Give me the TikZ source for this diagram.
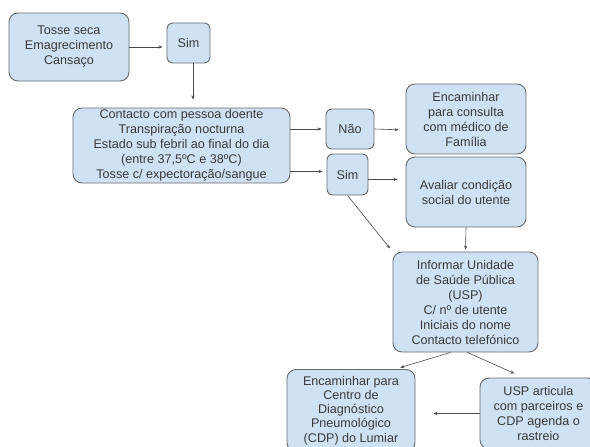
\documentclass[tikz,border=0pt]{standalone}
\usepackage{fontspec}
\setmainfont{Liberation Sans}
\usetikzlibrary{arrows.meta}
\definecolor{boxfill}{HTML}{CFE2F3}
\definecolor{boxline}{HTML}{6A6A6A}
\definecolor{txt}{HTML}{3A3A3A}
\definecolor{arr}{HTML}{4A4A4A}
\begin{document}
\begin{tikzpicture}[x=1pt,y=-1pt,
  box/.style={draw=boxline, fill=boxfill, line width=0.9pt, rounded corners=9pt,
    inner sep=0pt, align=center, text=txt,
    font=\fontsize{12.6}{15}\selectfont},
  small/.style={box, rounded corners=6pt},
  conn/.style={draw=arr, line width=0.6pt, -{Stealth[length=4pt,width=3.2pt]}}]
\useasboundingbox (0,0) rectangle (590,447);
\clip (0,0) rectangle (590,447);
\node[box, minimum width=120pt, minimum height=68pt] (b1) at (69,47)
  {Tosse seca\\Emagrecimento\\Cansaço};
\node[small, minimum width=43pt, minimum height=40pt] (s1) at (188.5,43) {Sim};
\node[box, minimum width=217pt, minimum height=75pt] (b2) at (181.5,145.5)
  {Contacto com pessoa doente\\Transpiração nocturna\\Estado sub febril ao final do dia\\(entre 37,5ºC e 38ºC)\\Tosse c/ expectoração/sangue};
\node[small, minimum width=48pt, minimum height=40pt] (nao) at (350,129) {Não};
\node[small, minimum width=41pt, minimum height=41pt] (s2) at (347.5,174.5) {Sim};
\node[box, minimum width=120pt, minimum height=70pt] (enc) at (466,119)
  {Encaminhar\\para consulta\\com médico de\\Família};
\node[box, minimum width=120pt, minimum height=70pt] (aval) at (466,192)
  {Avaliar condição\\social do utente};
\node[box, minimum width=145pt, minimum height=100pt] (inf) at (465.5,302)
  {Informar Unidade\\de Saúde Pública\\(USP)\\C/ nº de utente\\Iniciais do nome\\Contacto telefónico};
\node[box, minimum width=128pt, minimum height=82pt, font=\fontsize{12.6}{14.2}\selectfont] (cdp) at (351,410.5)
  {Encaminhar para\\Centro de\\Diagnóstico\\Pneumológico\\(CDP) do Lumiar};
\node[box, minimum width=117pt, minimum height=71pt] (usp) at (538.5,413.5)
  {USP articula\\com parceiros e\\CDP agenda o\\rastreio};
\draw[conn, shorten >=4pt] (b1.east) -- (s1.west |- b1.east);
\draw[conn, shorten >=8pt] ([xshift=4.5pt]s1.south) -- ([xshift=4.5pt]s1.south |- b2.north);
\draw[conn, shorten >=4pt] (b2.east |- nao.west) -- (nao.west);
\draw[conn, shorten >=4pt] ([yshift=3pt]b2.east |- s2.west) -- ([yshift=3pt]s2.west);
\draw[conn, shorten >=7pt] (nao.east) -- ([yshift=-1pt]enc.west |- nao.east);
\draw[conn, shorten >=8pt] ([yshift=-5pt]s2.east) -- ([yshift=-5pt]aval.west |- s2.east);
\draw[conn, shorten >=4pt] (s2.south) -- (inf.north west);
\draw[conn, shorten >=2pt] (aval.south) -- (inf.north);
\draw[conn, shorten >=5pt] ([xshift=-15pt]inf.south) -- ([xshift=-20pt]cdp.north east);
\draw[conn, shorten >=10pt] ([xshift=2pt]inf.south) -- ([xshift=-15pt]usp.north);
\draw[conn, shorten >=18pt] (usp.west) -- (cdp.east |- usp.west);
\end{tikzpicture}
\end{document}
